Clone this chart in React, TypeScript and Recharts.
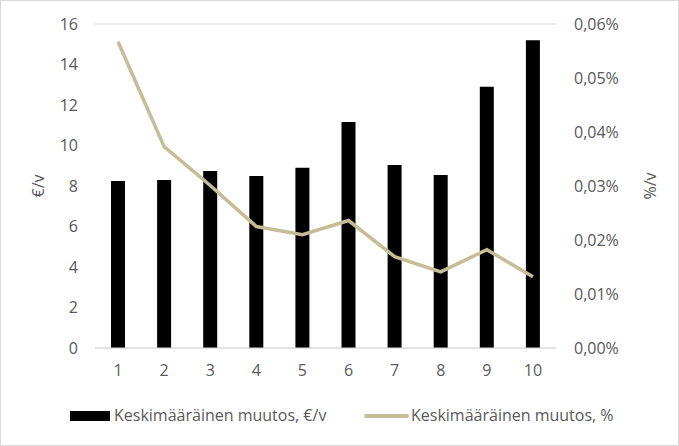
import React from 'react';
import { ComposedChart, Bar, Line, XAxis, YAxis, CartesianGrid, Legend } from 'recharts';

const categories = ['1', '2', '3', '4', '5', '6', '7', '8', '9', '10'];
const euroValues = [8.25, 8.3, 8.74, 8.5, 8.9, 11.16, 9.04, 8.54, 12.9, 15.2];
const pctValues = [0.0567, 0.0373, 0.0301, 0.0225, 0.021, 0.0236, 0.0169, 0.0141, 0.0182, 0.0132];
const leftTicks = [0, 2, 4, 6, 8, 10, 12, 14, 16];
const rightTicks = [0, 0.01, 0.02, 0.03, 0.04, 0.05, 0.06];

const barName = 'Keskimääräinen muutos, €/v';
const lineName = 'Keskimääräinen muutos, %';

const data = categories.map((c, i) => ({ cat: c, euro: euroValues[i], pct: pctValues[i] }));

const FONT = '"Open Sans", sans-serif';
const TXT = '#595959';
const LINE = '#C4BD97';
const FS = 16;

const LegendContent = () => (
  <div style={{ position: 'relative', width: 679, height: 22, fontFamily: FONT, fontSize: FS, color: TXT }}>
    <div style={{ position: 'absolute', left: 70, top: 7, width: 40, height: 10, background: '#000' }} />
    <div style={{ position: 'absolute', left: 114, top: 0, lineHeight: '22px', whiteSpace: 'nowrap' }}>{barName}</div>
    <div style={{ position: 'absolute', left: 364, top: 10, width: 45, height: 4, background: LINE, borderRadius: 2 }} />
    <div style={{ position: 'absolute', left: 411, top: 0, lineHeight: '22px', whiteSpace: 'nowrap' }}>{lineName}</div>
  </div>
);

export default function App() {
  return (
    <div style={{ position: 'absolute', left: 0, top: 0, width: 679, height: 446, background: '#fff' }}>
      <div style={{ position: 'absolute', left: 0, top: 0, width: 677, height: 444, border: '1px solid #D9D9D9' }} />
      <ComposedChart width={679} height={446} data={data} margin={{ top: 24, right: 0, left: 0, bottom: 20 }}>
        <CartesianGrid vertical={false} stroke="#D9D9D9" strokeWidth={1} />
        <XAxis
          dataKey="cat"
          height={56}
          tickLine={false}
          tickSize={0}
          tickMargin={17}
          axisLine={{ stroke: '#D9D9D9' }}
          tick={{ fill: TXT, fontSize: FS, fontFamily: FONT }}
        />
        <YAxis
          yAxisId="left"
          width={95}
          domain={[0, 16]}
          ticks={leftTicks}
          tickLine={false}
          axisLine={false}
          tickSize={0}
          tickMargin={17}
          tick={{ fill: TXT, fontSize: FS, fontFamily: FONT }}
          label={{
            content: () => (
              <text x={38} y={186} transform="rotate(-90, 38, 186)" textAnchor="middle" dominantBaseline="central" fill={TXT} fontSize={FS} fontFamily={FONT}>€/v</text>
            ),
          }}
        />
        <YAxis
          yAxisId="right"
          orientation="right"
          width={123}
          domain={[0, 0.06]}
          ticks={rightTicks}
          tickLine={false}
          axisLine={false}
          tickSize={0}
          tickMargin={18}
          tickFormatter={(v: number) => v.toFixed(2).replace('.', ',') + '%'}
          tick={{ fill: TXT, fontSize: FS, fontFamily: FONT }}
          label={{
            content: () => (
              <text x={650} y={186} transform="rotate(-90, 650, 186)" textAnchor="middle" dominantBaseline="central" fill={TXT} fontSize={FS} fontFamily={FONT}>%/v</text>
            ),
          }}
        />
        <Bar yAxisId="left" dataKey="euro" name={barName} fill="#000" barSize={14} isAnimationActive={false} />
        <Line yAxisId="right" dataKey="pct" name={lineName} stroke={LINE} strokeWidth={3.5} dot={false} type="linear" isAnimationActive={false} />
        <Legend verticalAlign="bottom" height={22} content={LegendContent} />
      </ComposedChart>
    </div>
  );
}
